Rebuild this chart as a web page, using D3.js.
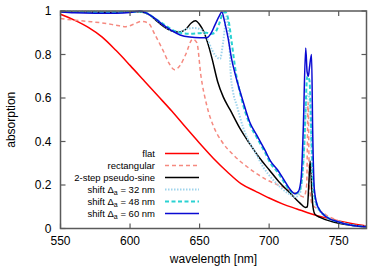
<!DOCTYPE html>
<html>
<head>
<meta charset="utf-8">
<script src="https://cdn.jsdelivr.net/npm/d3@7"></script>
<style>
  body { margin: 0; background: #fff; }
  svg { display: block; font-family: "Liberation Sans", Arial, sans-serif; }
</style>
</head>
<body>
<div id="vis"></div>
<script>
// wavelength [nm], absorption pairs
const flat = [[550,0.985],[560,0.958],[570,0.925],[580,0.88],[590,0.818],[600,0.75],[610,0.68],[620,0.61],[630,0.54],[640,0.465],[650,0.392],[660,0.322],[670,0.26],[680,0.205],[690,0.172],[700,0.14],[710,0.112],[720,0.09],[730,0.068],[740,0.05],[750,0.035],[760,0.022],[770,0.012]];

const rectangular = [[550,0.965],[560,0.958],[570,0.952],[580,0.945],[590,0.935],[597,0.928],[603,0.94],[608,0.952],[613,0.945],[618,0.89],[624,0.815],[628,0.76],[632,0.73],[636,0.75],[640,0.8],[645,0.87],[648,0.855],[651,0.7],[655,0.57],[660,0.47],[666,0.4],[674,0.34],[686,0.275],[698,0.225],[710,0.19],[720,0.16],[725,0.145],[727,0.2],[728,0.58],[729,0.2],[731,0.11],[735,0.09],[741,0.062],[750,0.035],[758,0.018],[770,0.008]];

const pseudoSine = [[550,0.995],[570,0.995],[590,0.993],[605,0.997],[610,0.993],[614,0.982],[620,0.95],[625,0.925],[630,0.908],[635,0.903],[640,0.915],[644,0.945],[647,0.955],[650,0.938],[653,0.905],[656,0.85],[659,0.78],[663,0.675],[667,0.605],[672,0.545],[679,0.46],[686,0.39],[693,0.325],[700,0.27],[707,0.215],[715,0.163],[722,0.118],[726,0.097],[727.5,0.1],[728.5,0.2],[729.5,0.31],[730.5,0.2],[731.5,0.1],[733,0.065],[737,0.05],[745,0.032],[755,0.018],[770,0.007]];

const shift32 = [[550,0.998],[600,0.997],[607,0.998],[612,0.99],[618,0.965],[624,0.935],[630,0.91],[636,0.905],[641,0.918],[646,0.922],[650,0.918],[655,0.88],[659,0.82],[664.7,0.78],[667,0.86],[669.5,0.975],[671,0.9],[672.5,0.7],[674,0.63],[677,0.56],[681,0.47],[684,0.42],[690,0.35],[696,0.28],[702,0.23],[708,0.19],[714,0.16],[719,0.145],[722,0.16],[724,0.25],[727.5,0.62],[729,0.6],[731,0.25],[733,0.12],[737,0.075],[742,0.05],[750,0.03],[760,0.015],[770,0.008]];

const shift48 = [[550,0.998],[575,0.995],[600,0.995],[607,0.998],[612,0.99],[618,0.965],[624,0.94],[630,0.915],[636,0.9],[643,0.895],[650,0.898],[655,0.9],[658,0.895],[661,0.9],[664,0.94],[666.5,0.985],[668.5,0.995],[671,0.95],[673,0.86],[676,0.72],[680,0.6],[686,0.48],[691,0.42],[697,0.35],[701,0.3],[706,0.26],[711,0.21],[715,0.175],[718,0.16],[721,0.165],[723,0.2],[725,0.35],[727.5,0.7],[729,0.68],[730.5,0.4],[732,0.18],[735,0.1],[741,0.055],[750,0.03],[760,0.015],[770,0.008]];

const shift60 = [[550,0.997],[560,0.992],[575,0.99],[590,0.99],[600,0.993],[607,1.0],[612,0.99],[618,0.965],[624,0.935],[630,0.91],[636,0.89],[643,0.88],[650,0.877],[655,0.877],[658,0.895],[661,0.935],[664,0.975],[666,0.995],[668,0.95],[670.5,0.875],[673,0.78],[676,0.7],[681,0.59],[686,0.49],[691,0.43],[697,0.36],[701,0.31],[706,0.27],[711,0.22],[715,0.18],[718.5,0.16],[721,0.17],[723,0.23],[724.5,0.45],[726.3,0.83],[727.3,0.72],[728.2,0.7],[729,0.74],[730.5,0.8],[731.3,0.45],[732.5,0.18],[735,0.1],[741,0.054],[750,0.03],[758,0.016],[770,0.008]];

const xTicks = [550, 600, 650, 700, 750];
const yTicks = [0, 0.2, 0.4, 0.6, 0.8, 1];

const series = [
  { name: 'flat', data: flat, color: '#ff0000', width: 1.5, dash: null },
  { name: 'rectangular', data: rectangular, color: '#f58a80', width: 1.5, dash: '4,3' },
  { name: '2-step pseudo-sine', data: pseudoSine, color: '#000000', width: 1.5, dash: null },
  { name: '32', data: shift32, color: '#9fd4ec', width: 2, dash: '1.5,1.5' },
  { name: '48', data: shift48, color: '#2ad2d2', width: 2, dash: '4,2.5' },
  { name: '60', data: shift60, color: '#0a0ad2', width: 1.5, dash: null }
];

const W = 371, H = 269;
const margin = { left: 60.5, right: 366.5, top: 11, bottom: 228.5 };

const svg = d3.select('#vis').append('svg')
  .attr('width', W)
  .attr('height', H);

const x = d3.scaleLinear().domain([550, 770]).range([margin.left, margin.right]);
const y = d3.scaleLinear().domain([0, 1]).range([margin.bottom, margin.top]);

const plot = svg.append('g');
plot.append('clipPath').attr('id', 'clip')
  .append('rect').attr('x', margin.left).attr('y', margin.top - 2)
  .attr('width', margin.right - margin.left).attr('height', margin.bottom - margin.top + 2);

const line = d3.line()
  .x(d => x(d[0]))
  .y(d => y(d[1]))
  .curve(d3.curveMonotoneX);

series.forEach(s => {
  plot.append('path')
    .datum(s.data)
    .attr('clip-path', 'url(#clip)')
    .attr('fill', 'none')
    .attr('stroke', s.color)
    .attr('stroke-width', s.width)
    .attr('stroke-dasharray', s.dash)
    .attr('stroke-linejoin', 'round')
    .attr('d', line);
});

// frame + ticks (inward, mirrored like gnuplot)
const axisColor = '#5a5a5a';
const tk = 5;
const axes = svg.append('g').attr('stroke', axisColor).attr('stroke-width', 1.2);
xTicks.forEach(t => {
  axes.append('line').attr('x1', x(t)).attr('x2', x(t)).attr('y1', margin.bottom).attr('y2', margin.bottom - tk);
  axes.append('line').attr('x1', x(t)).attr('x2', x(t)).attr('y1', margin.top).attr('y2', margin.top + tk);
});
yTicks.forEach(t => {
  axes.append('line').attr('x1', margin.left).attr('x2', margin.left + tk).attr('y1', y(t)).attr('y2', y(t));
  axes.append('line').attr('x1', margin.right).attr('x2', margin.right - tk).attr('y1', y(t)).attr('y2', y(t));
});
axes.append('rect')
  .attr('x', margin.left).attr('y', margin.top)
  .attr('width', margin.right - margin.left).attr('height', margin.bottom - margin.top)
  .attr('fill', 'none')
  .attr('stroke-width', 1.5);

const labels = svg.append('g').attr('font-size', 12).attr('fill', '#000');
xTicks.forEach(t => {
  labels.append('text').attr('x', x(t)).attr('y', margin.bottom + 16)
    .attr('text-anchor', 'middle').text(t);
});
yTicks.forEach(t => {
  labels.append('text').attr('x', margin.left - 9).attr('y', y(t) + 4)
    .attr('text-anchor', 'end').text(t);
});
labels.append('text')
  .attr('x', (margin.left + margin.right) / 2).attr('y', 263)
  .attr('text-anchor', 'middle').text('wavelength [nm]');
labels.append('text')
  .attr('transform', 'translate(15,' + ((margin.top + margin.bottom) / 2) + ') rotate(-90)')
  .attr('text-anchor', 'middle').text('absorption');

// legend
const legend = svg.append('g').attr('font-size', 9.5);
series.forEach((s, i) => {
  const ly = 153.5 + i * 12;
  const txt = legend.append('text')
    .attr('x', 155).attr('y', ly + 3.3)
    .attr('text-anchor', 'end');
  if (i < 3) {
    txt.text(s.name);
  } else {
    txt.append('tspan').text('shift \u0394');
    txt.append('tspan').attr('font-size', 7).attr('dy', 2.5).text('a');
    txt.append('tspan').attr('dy', -2.5).text(' = ' + s.name + ' nm');
  }
  legend.append('line')
    .attr('x1', 165).attr('x2', 199)
    .attr('y1', ly).attr('y2', ly)
    .attr('stroke', s.color)
    .attr('stroke-width', s.width)
    .attr('stroke-dasharray', s.dash);
});
</script>
</body>
</html>
